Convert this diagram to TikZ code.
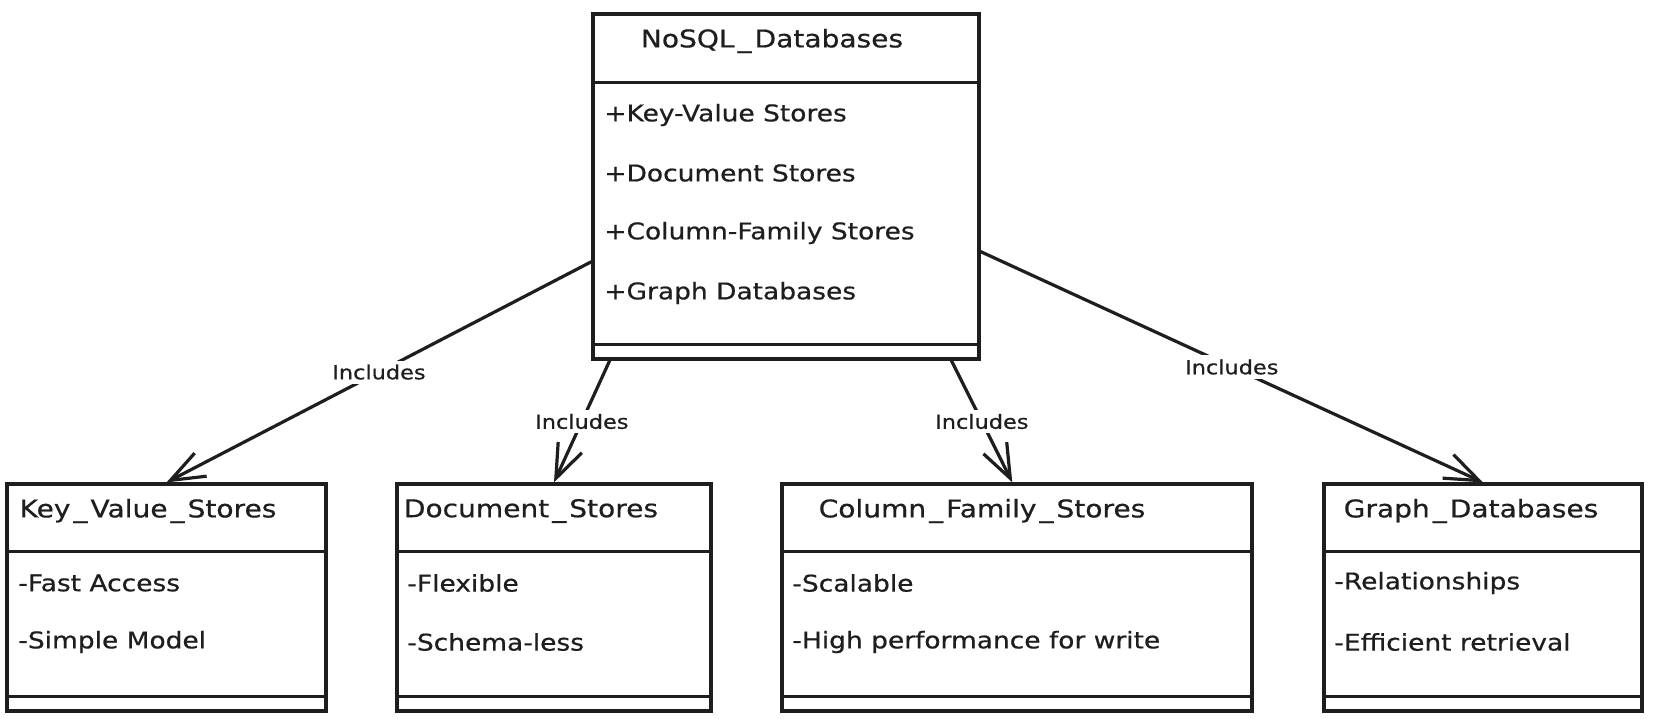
\documentclass[tikz,border=0pt]{standalone}
\usepackage{fontspec}
\setmainfont[FakeStretch=1.15,FakeBold=0.6]{DejaVu Sans}
\usetikzlibrary{arrows.meta,calc}
\definecolor{ink}{HTML}{1E1E1E}
\newcommand{\us}{\kern1.5pt\_\kern1.5pt}
\begin{document}
\begin{tikzpicture}[x=0.5pt,y=-0.5pt,
  classbox/.style={draw=ink,line width=1.6pt,inner sep=0pt,fill=white},
  sepline/.style={draw=ink,line width=1.5pt},
  ctitle/.style={text=ink,inner sep=0pt,font=\fontsize{12.2pt}{14pt}\selectfont},
  attr/.style={text=ink,anchor=west,inner sep=0pt,font=\fontsize{11.5pt}{14pt}\selectfont},
  rel/.style={draw=ink,line width=1.6pt,-{Straight Barb[length=17pt,width=13pt,line width=1.6pt]}},
  lbl/.style={fill=white,text=ink,inner sep=2pt,font=\fontsize{9.75pt}{12pt}\selectfont}]
\useasboundingbox (0,0) rectangle (1654,718);
\fill[white] (0,0) rectangle (1654,718);

% boxes
\node[classbox,minimum width=193pt,minimum height=172.5pt] (nosql) at (786,186.5) {};
\node[classbox,minimum width=159.5pt,minimum height=113.5pt] (kv) at (166.5,597.5) {};
\node[classbox,minimum width=157pt,minimum height=113.5pt] (doc) at (554,597.5) {};
\node[classbox,minimum width=235pt,minimum height=113.5pt] (col) at (1017,597.5) {};
\node[classbox,minimum width=159pt,minimum height=113.5pt] (graph) at (1483,597.5) {};

% separators
\draw[sepline] ($(nosql.north west)+(0,70)$) -- ($(nosql.north east)+(0,70)$);
\draw[sepline] ($(nosql.south west)+(0,-16)$) -- ($(nosql.south east)+(0,-16)$);
\foreach \b in {kv,doc,col,graph}{
  \draw[sepline] ($(\b.north west)+(0,69)$) -- ($(\b.north east)+(0,69)$);
  \draw[sepline] ($(\b.south west)+(0,-16)$) -- ($(\b.south east)+(0,-16)$);
}

% NoSQL texts
\node[ctitle] (t0) at (772,41) {NoSQL\us Databases};
\node[attr] (a01) at (604,115) {+Key-Value Stores};
\node[attr] (a02) at (604,173) {+Document Stores};
\node[attr] (a03) at (604,233) {+Column-Family Stores};
\node[attr] (a04) at (604,293) {+Graph Databases};

% Key value
\node[ctitle] (t1) at (148,511) {Key\us Value\us Stores};
\node[attr] (a11) at (18,583) {-Fast Access};
\node[attr] (a12) at (18,642) {-Simple Model};

% Document
\node[ctitle] (t2) at (531,511) {Document\us Stores};
\node[attr] (a21) at (407,583) {-Flexible};
\node[attr] (a22) at (407,642) {-Schema-less};

% Column family
\node[ctitle] (t3) at (982,511) {Column\us Family\us Stores};
\node[attr] (a31) at (792,583) {-Scalable};
\node[attr] (a32) at (792,642) {-High performance for write};

% Graph
\node[ctitle] (t4) at (1471,511) {Graph\us Databases};
\node[attr] (a41) at (1334,583) {-Relationships};
\node[attr] (a42) at (1334,642) {-Efficient retrieval};

% relations
\draw[rel] ($(nosql.north west)!0.716!(nosql.south west)$) -- (kv.north)
  node[lbl,pos=0.5] (l1) {Includes};
\draw[rel] ($(nosql.south west)!0.047!(nosql.south east)$) -- (doc.north)
  node[lbl,pos=0.5] (l2) {Includes};
\draw[rel] ($(nosql.south west)!0.925!(nosql.south east)$) -- ($(col.north west)!0.49!(col.north east)$)
  node[lbl,pos=0.5] (l3) {Includes};
\draw[rel] ($(nosql.north east)!0.687!(nosql.south east)$) -- (graph.north)
  node[lbl,pos=0.5] (l4) {Includes};
\end{tikzpicture}
\end{document}
